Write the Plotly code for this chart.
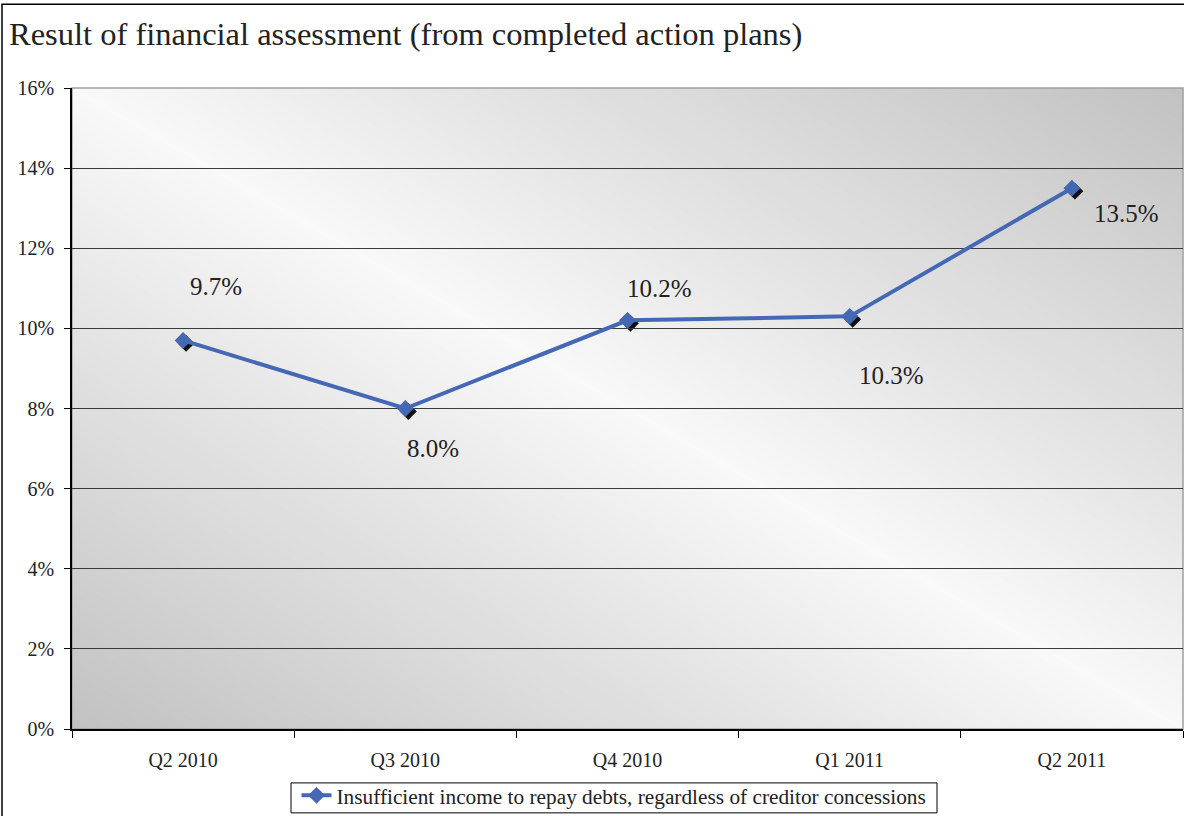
import plotly.graph_objects as go

# data
quarters = ["Q2 2010", "Q3 2010", "Q4 2010", "Q1 2011", "Q2 2011"]
share_insufficient = [0.097, 0.080, 0.102, 0.103, 0.135]
series_name = "Insufficient income to repay debts, regardless of creditor concessions"
y_ticks = [0, 0.02, 0.04, 0.06, 0.08, 0.10, 0.12, 0.14, 0.16]

# label offsets in pixels (style only)
label_dx = [33, 28, 32, 42, 55]
label_dy = [54, -40, 32, -59, -25]

W, H = 1184, 816
ML, MR, MT, MB = 72, 1, 88, 86
PW, PH = W - ML - MR, H - MT - MB
FONT = "Liberation Serif"
BLUE = "#4568B4"

fig = go.Figure()

# shadow of the markers, drawn on slightly shifted axes (3 px right / down)
sh = 3
fig.add_trace(go.Scatter(
    x=quarters, y=share_insufficient, mode="markers",
    marker=dict(symbol="diamond", size=13, color="#111111"),
    xaxis="x", yaxis="y", showlegend=False, hoverinfo="skip"
))

fig.add_trace(go.Scatter(
    x=quarters, y=share_insufficient, mode="lines+markers",
    name=series_name,
    line=dict(color=BLUE, width=4),
    marker=dict(symbol="diamond", size=13, color=BLUE),
    xaxis="x2", yaxis="y2"
))

# data labels
for q, v, dx, dy in zip(quarters, share_insufficient, label_dx, label_dy):
    fig.add_annotation(
        x=q, y=v, xref="x2", yref="y2", text=f"{v*100:.1f}%",
        showarrow=False, xshift=dx, yshift=dy,
        font=dict(family=FONT, size=25, color="#222222")
    )

# diagonal gradient background of the plot area
shapes = []
N = 56
dark, light = 0xC2, 0xF9
shapes.append(dict(type="rect", xref="paper", yref="paper", x0=0, y0=0, x1=1, y1=1,
                   fillcolor="#%02x%02x%02x" % (dark, dark, dark), line=dict(width=0), layer="below"))
for k in range(N - 1, -1, -1):
    t = k / N
    g = round(light + (dark - light) * t)
    col = "#%02x%02x%02x" % (g, g, g)
    if t == 0:
        t = 0.004
    path = (f"M 0 {1-t} L 0 1 L {t} 1 L 1 {t} L 1 0 L {1-t} 0 Z")
    shapes.append(dict(type="path", xref="paper", yref="paper", path=path,
                       fillcolor=col, line=dict(width=0), layer="below"))
# plot area border (top/right gray)
shapes.append(dict(type="rect", xref="paper", yref="paper", x0=0, y0=0, x1=1, y1=1,
                   line=dict(color="#a0a0a0", width=1.5), layer="below"))
# outer chart border
shapes.append(dict(type="rect", xref="paper", yref="paper",
                   x0=(2 - ML) / PW, x1=1.05, y0=-0.3, y1=(H - MB - 4) / PH,
                   line=dict(color="#000000", width=1.5), layer="above"))

# legend frame (plotly's own legend box is taller than the original)
LEG_CY = 796
FRAME_CY = 799
def px_x(p):
    return (p - ML) / PW
def px_y(p):
    return (H - MB - p) / PH
shapes.append(dict(type="rect", xref="paper", yref="paper",
                   x0=px_x(291), x1=px_x(937), y0=px_y(FRAME_CY + 15), y1=px_y(FRAME_CY - 15),
                   fillcolor="white", line=dict(color="#000000", width=1), layer="below"))

fig.update_layout(
    width=W, height=H,
    margin=dict(l=ML, r=MR, t=MT, b=MB),
    paper_bgcolor="white",
    plot_bgcolor="rgba(0,0,0,0)",
    shapes=shapes,
    title=dict(text="Result of financial assessment (from completed action plans)",
               x=9 / W, xanchor="left", y=1 - 34 / H, yanchor="middle",
               font=dict(family=FONT, size=32.5, color="#222222")),
    font=dict(family=FONT, size=20, color="#222222"),
    showlegend=True,
    legend=dict(orientation="h", x=px_x(614), xanchor="center",
                y=px_y(LEG_CY), yanchor="middle",
                bgcolor="rgba(0,0,0,0)", borderwidth=0,
                font=dict(family=FONT, size=21.3, color="#222222")),
    # shadow axes
    xaxis=dict(type="category", domain=[sh / PW, 1], range=[-0.5, 4.5 - sh / (PW / 5)],
               visible=False, fixedrange=True),
    yaxis=dict(domain=[0, 1 - sh / PH], range=[sh / (PH / 0.16), 0.16],
               visible=False, fixedrange=True),
    # main axes
    xaxis2=dict(type="category", domain=[0, 1], range=[-0.5, 4.5], anchor="y2",
                showgrid=False, showline=True, linecolor="#000000", linewidth=1.5,
                ticks="outside", tickson="boundaries", ticklen=7, tickcolor="#000000",
                ticklabelstandoff=12,
                tickfont=dict(family=FONT, size=20, color="#222222")),
    yaxis2=dict(domain=[0, 1], range=[0, 0.16], anchor="x2",
                tickvals=y_ticks, tickformat=".0%",
                showgrid=True, gridcolor="#3a3a3a", gridwidth=1,
                showline=True, linecolor="#000000", linewidth=1.5,
                ticks="outside", ticklen=6, tickcolor="#000000",
                ticklabelstandoff=6, zeroline=False,
                tickfont=dict(family=FONT, size=20, color="#222222")),
)

fig.write_html("out.html", config={"displayModeBar": False},
               post_script="document.body.style.margin='0';")
